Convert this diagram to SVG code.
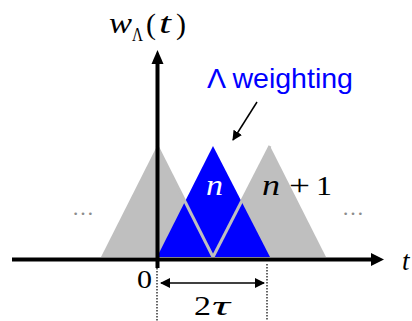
<svg xmlns="http://www.w3.org/2000/svg" width="412" height="321" viewBox="0 0 412 321">
<style>
.m{font-family:"Liberation Serif","Times New Roman",serif;font-style:italic;fill:#000}
.r{font-family:"Liberation Serif","Times New Roman",serif;fill:#000}
.dots{font-family:"Liberation Serif",serif;fill:#8c8c8c;font-size:22px}
.gray{fill:#bfbfbf}
.edge{stroke:#bfbfbf;stroke-width:3;fill:none}
.ax{stroke:#000;stroke-width:4;fill:none}
.dot{stroke:#000;stroke-width:1.2;stroke-dasharray:1.5,1.5;fill:none}
</style>
<defs>
<marker id="ah" viewBox="0 0 10 10" refX="9" refY="5" markerWidth="10" markerHeight="10" markerUnits="userSpaceOnUse" orient="auto-start-reverse">
<path d="M0,0 L10,5 L0,10 Z" fill="#000"/>
</marker>
</defs>
<g id="tri-left"><polygon class="gray" points="101,257 157,146 213,257"/></g>
<g id="tri-right"><polygon class="gray" points="213,257 270,146 326,257"/></g>
<g id="tri-blue"><polygon points="157,257 213,146 270,257" fill="#0000ff"/>
<line class="edge" x1="157" y1="146" x2="213" y2="257"/>
<line class="edge" x1="213" y1="257" x2="270" y2="146"/>
<text class="m" x="206" y="195" font-size="29" textLength="17" lengthAdjust="spacingAndGlyphs" style="fill:#fff">n</text></g>
<g id="connectors">
<line class="ax" x1="12" y1="259.5" x2="372" y2="259.5"/>
<polygon points="371,253 384,259.5 371,266" fill="#000"/>
<line class="ax" x1="157.5" y1="268" x2="157.5" y2="63"/>
<polygon points="151.5,64 157.5,50 163.5,64" fill="#000"/>
<line class="dot" x1="157" y1="268" x2="157" y2="321"/>
<line class="dot" x1="267" y1="264" x2="267" y2="321"/>
<line x1="161" y1="283" x2="264" y2="283" stroke="#000" stroke-width="1.5" marker-start="url(#ah)" marker-end="url(#ah)"/>
<line x1="257" y1="102" x2="233" y2="140" stroke="#000" stroke-width="1.5" marker-end="url(#ah)"/>
</g>
<g id="label-w">
<text class="m" x="109" y="33" font-size="29" textLength="23" lengthAdjust="spacingAndGlyphs">w</text>
<text class="r" x="132" y="41" font-size="18" textLength="11" lengthAdjust="spacingAndGlyphs">Λ</text>
<text class="r" x="146" y="34" font-size="30">(</text>
<text class="m" x="159" y="33" font-size="29" textLength="12" lengthAdjust="spacingAndGlyphs">t</text>
<text class="r" x="176" y="34" font-size="30">)</text>
</g>
<g id="label-weighting"><text x="207" y="88" font-family="Liberation Sans, Arial, sans-serif" font-size="28" textLength="146" lengthAdjust="spacingAndGlyphs" fill="#0000ff">Λ weighting</text></g>
<g id="label-n1">
<text class="m" x="262" y="195" font-size="29" textLength="18" lengthAdjust="spacingAndGlyphs">n</text>
<text class="r" x="289" y="195" font-size="29" textLength="21" lengthAdjust="spacingAndGlyphs">+</text>
<text class="r" x="316" y="195" font-size="28" textLength="16" lengthAdjust="spacingAndGlyphs">1</text>
</g>
<g id="dots"><text class="dots" x="72" y="215">…</text><text class="dots" x="342" y="215">…</text></g>
<g id="label-0"><text class="r" x="137" y="288" font-size="26" textLength="15" lengthAdjust="spacingAndGlyphs">0</text></g>
<g id="label-t"><text class="m" x="402" y="270" font-size="27">t</text></g>
<g id="label-2tau"><text class="r" x="194" y="315" font-size="27" textLength="17" lengthAdjust="spacingAndGlyphs">2</text><text class="m" x="212" y="315" font-size="27" textLength="18" lengthAdjust="spacingAndGlyphs">τ</text></g>
</svg>
